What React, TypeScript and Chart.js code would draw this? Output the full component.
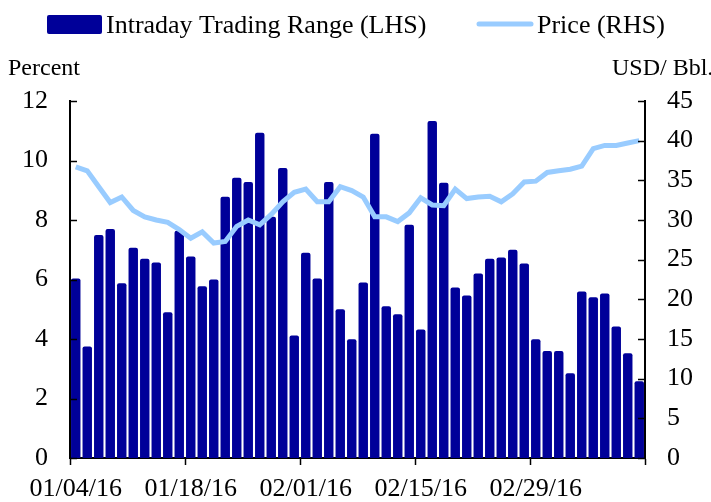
import React, { useEffect, useRef } from "react";
import { Chart, registerables } from "chart.js";

Chart.register(...registerables);

const dates: string[] = [
  "01/04/16", "01/05/16", "01/06/16", "01/07/16", "01/08/16",
  "01/11/16", "01/12/16", "01/13/16", "01/14/16", "01/15/16",
  "01/18/16", "01/19/16", "01/20/16", "01/21/16", "01/22/16",
  "01/25/16", "01/26/16", "01/27/16", "01/28/16", "01/29/16",
  "02/01/16", "02/02/16", "02/03/16", "02/04/16", "02/05/16",
  "02/08/16", "02/09/16", "02/10/16", "02/11/16", "02/12/16",
  "02/15/16", "02/16/16", "02/17/16", "02/18/16", "02/19/16",
  "02/22/16", "02/23/16", "02/24/16", "02/25/16", "02/26/16",
  "02/29/16", "03/01/16", "03/02/16", "03/03/16", "03/04/16",
  "03/07/16", "03/08/16", "03/09/16", "03/10/16", "03/11/16",
];

const tickLabelDates: string[] = ["01/04/16", "01/18/16", "02/01/16", "02/15/16", "02/29/16"];

const tradingRange: number[] = [
  6.03, 3.75, 7.5, 7.7, 5.87, 7.07, 6.7, 6.57, 4.9, 7.64,
  6.77, 5.77, 6.0, 8.78, 9.42, 9.28, 10.93, 8.11, 9.75, 4.12,
  6.9, 6.03, 9.28, 5.0, 3.99, 5.9, 10.9, 5.1, 4.83, 7.84,
  4.32, 11.33, 9.25, 5.73, 5.46, 6.2, 6.7, 6.74, 7.0, 6.54,
  3.99, 3.6, 3.6, 2.85, 5.6, 5.4, 5.53, 4.42, 3.52, 2.58,
];

const price: number[] = [
  36.7, 36.2, 34.2, 32.2, 32.9, 31.2, 30.4, 30.0, 29.7, 28.8,
  27.7, 28.5, 27.1, 27.3, 29.2, 30.0, 29.4, 30.7, 32.3, 33.5,
  33.9, 32.3, 32.3, 34.2, 33.7, 32.9, 30.4, 30.4, 29.8, 30.9,
  32.8, 31.9, 31.8, 33.9, 32.7, 32.9, 33.0, 32.3, 33.3, 34.8,
  34.9, 36.0, 36.2, 36.4, 36.8, 39.0, 39.4, 39.4, 39.7, 40.0,
];

const leftTicks = { min: 0, max: 12, step: 2 };
const rightTicks = { min: 0, max: 45, step: 5 };

const BAR_COLOR = "#000099";
const LINE_COLOR = "#99CCFF";
const FONT_FAMILY = "'Liberation Serif', 'Times New Roman', serif";

const overlayPlugin = {
  id: "overlay",
  afterDraw(chart: any) {
    const ctx = chart.ctx;
    ctx.save();
    // inward y-axis tick marks
    ctx.strokeStyle = "#000";
    ctx.lineWidth = 1.5;
    const yl = chart.scales.y;
    const yr = chart.scales.y1;
    yl.ticks.forEach((t: any) => {
      const py = Math.round(yl.getPixelForValue(t.value)) + 0.5;
      ctx.beginPath();
      ctx.moveTo(yl.right, py);
      ctx.lineTo(yl.right + 7, py);
      ctx.stroke();
    });
    yr.ticks.forEach((t: any) => {
      const py = Math.round(yr.getPixelForValue(t.value)) + 0.5;
      ctx.beginPath();
      ctx.moveTo(yr.left, py);
      ctx.lineTo(yr.left - 7, py);
      ctx.stroke();
    });

    // legend
    ctx.fillStyle = BAR_COLOR;
    ctx.beginPath();
    (ctx as any).roundRect(47, 15, 55, 19, 2);
    ctx.fill();
    ctx.fillStyle = "#000";
    ctx.font = `26px ${FONT_FAMILY}`;
    ctx.textBaseline = "alphabetic";
    ctx.textAlign = "left";
    ctx.fillText(chart.data.datasets[0].label, 106, 33);
    ctx.strokeStyle = LINE_COLOR;
    ctx.lineWidth = 5;
    ctx.lineCap = "round";
    ctx.beginPath();
    ctx.moveTo(479, 24);
    ctx.lineTo(531, 24);
    ctx.stroke();
    ctx.fillText(chart.data.datasets[1].label, 537, 33);

    // axis titles
    ctx.font = `24px ${FONT_FAMILY}`;
    ctx.fillText("Percent", 8, 75);
    ctx.fillText("USD/ Bbl.", 612, 75);
    ctx.restore();
  },
};

export default function App() {
  const canvasRef = useRef<HTMLCanvasElement | null>(null);

  useEffect(() => {
    if (!canvasRef.current) return;
    const chart = new Chart(canvasRef.current, {
      type: "bar",
      data: {
        labels: dates,
        datasets: [
          {
            type: "bar",
            label: "Intraday Trading Range (LHS)",
            data: tradingRange,
            backgroundColor: BAR_COLOR,
            borderWidth: 0,
            borderRadius: 2,
            categoryPercentage: 0.82,
            barPercentage: 1,
            yAxisID: "y",
            order: 2,
          },
          {
            type: "line",
            label: "Price (RHS)",
            data: price,
            borderColor: LINE_COLOR,
            backgroundColor: LINE_COLOR,
            borderWidth: 5,
            pointRadius: 0,
            tension: 0,
            yAxisID: "y1",
            order: 1,
          } as any,
        ],
      },
      options: {
        animation: false,
        responsive: true,
        maintainAspectRatio: false,
        layout: { padding: { top: 101, left: 0, right: 0, bottom: 0 } },
        plugins: {
          legend: { display: false },
          tooltip: { enabled: false },
        },
        scales: {
          x: {
            type: "category",
            offset: true,
            grid: {
              offset: true,
              drawOnChartArea: false,
              drawTicks: true,
              tickLength: 7,
              tickWidth: 1.5,
              tickColor: (c: any) =>
                c.type !== "tick" || c.index % 10 === 0 ? "#000" : "rgba(0,0,0,0)",
            },
            border: { display: true, color: "#000", width: 2 },
            ticks: {
              autoSkip: false,
              maxRotation: 0,
              minRotation: 0,
              padding: 9,
              color: "#000",
              font: { family: FONT_FAMILY, size: 26 },
              callback: (_v: any, i: number) =>
                tickLabelDates.includes(dates[i]) ? dates[i] : "",
            },
            afterFit: (s: any) => {
              s.height = 44;
            },
          },
          y: {
            position: "left",
            min: leftTicks.min,
            max: leftTicks.max,
            grid: { display: false, drawTicks: false },
            border: { display: true, color: "#000", width: 2 },
            ticks: {
              stepSize: leftTicks.step,
              padding: 22,
              color: "#000",
              font: { family: FONT_FAMILY, size: 26 },
            },
            afterFit: (s: any) => {
              s.width = 70;
            },
          },
          y1: {
            position: "right",
            min: rightTicks.min,
            max: rightTicks.max,
            grid: { display: false, drawTicks: false },
            border: { display: true, color: "#000", width: 2 },
            ticks: {
              stepSize: rightTicks.step,
              padding: 22,
              color: "#000",
              font: { family: FONT_FAMILY, size: 26 },
            },
            afterFit: (s: any) => {
              s.width = 66;
            },
          },
        },
      },
      plugins: [overlayPlugin],
    });
    return () => chart.destroy();
  }, []);

  return (
    <div style={{ position: "absolute", left: 0, top: 0, width: 711, height: 502, background: "#fff" }}>
      <canvas ref={canvasRef} />
    </div>
  );
}
